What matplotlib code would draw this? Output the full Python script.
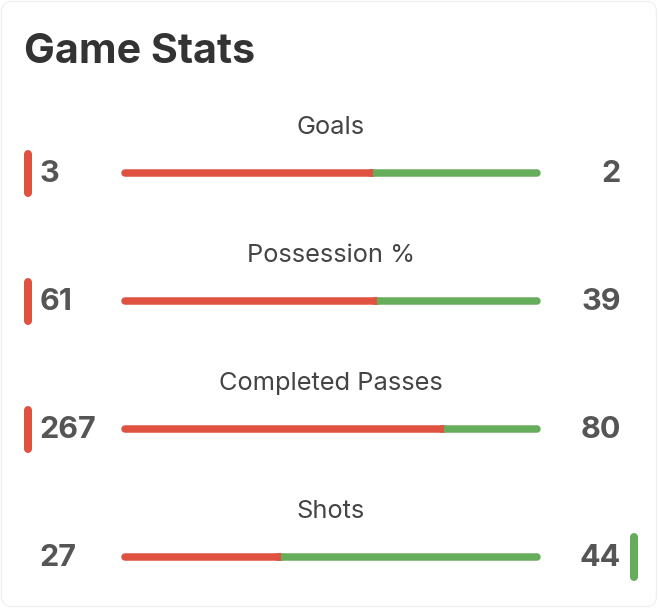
import matplotlib
matplotlib.use("Agg")
import matplotlib.pyplot as plt
from matplotlib.patches import FancyBboxPatch

plt.rcParams.update({
    "font.family": ["Inter", "DejaVu Sans"],
})

# data
title = "Game Stats"
stat_names = ["Goals", "Possession %", "Completed Passes", "Shots"]
home_vals = [3, 61, 267, 27]
away_vals = [2, 39, 80, 44]

RED = "#e05240"
GREEN = "#66ad5b"

W, H = 658, 608
fig = plt.figure(figsize=(W / 100, H / 100), dpi=100)
ax = fig.add_axes([0, 0, 1, 1])
ax.set_xlim(0, W)
ax.set_ylim(H, 0)
ax.axis("off")

# card border
ax.add_patch(FancyBboxPatch((1.5, 1.5), W - 3, H - 3,
                            boxstyle="round,pad=0,rounding_size=10",
                            fc="white", ec="#f0f0f0", lw=1))

ax.text(24, 63, title, fontsize=29.7, fontweight="bold", color="#333333",
        ha="left", va="baseline")

px = 72 / 100  # points per pixel
bar_x0, bar_x1 = 121, 541
bar_lw = 7.5 * px
ind_lw = 8 * px
row0, step = 126, 128

for i, (name, hv, av) in enumerate(zip(stat_names, home_vals, away_vals)):
    ly = row0 + i * step
    by = ly + 47
    ax.text(331, ly + 1.5, name, fontsize=18.3, color="#444444",
            ha="center", va="center")

    split = bar_x0 + (bar_x1 - bar_x0) * hv / (hv + av)
    r = 3.75
    ax.plot([bar_x0 + r, split], [by, by], color=RED, lw=bar_lw,
            solid_capstyle="round")
    ax.plot([split, bar_x1 - r], [by, by], color=GREEN, lw=bar_lw,
            solid_capstyle="round")
    ax.plot([split - r - 0.5, split], [by, by], color=RED, lw=bar_lw,
            solid_capstyle="butt")

    ax.text(39.5, by + 1, str(hv), fontsize=22, fontweight="bold", color="#555555",
            ha="left", va="center")
    ax.text(621, by + 1, str(av), fontsize=22, fontweight="bold", color="#555555",
            ha="right", va="center")

    if hv > av:
        ax.plot([28, 28], [by - 19.5, by + 19.5], color=RED, lw=ind_lw,
                solid_capstyle="round")
    elif av > hv:
        ax.plot([634, 634], [by - 20, by + 20], color=GREEN, lw=ind_lw,
                solid_capstyle="round")

fig.savefig("out.png", dpi=100)
